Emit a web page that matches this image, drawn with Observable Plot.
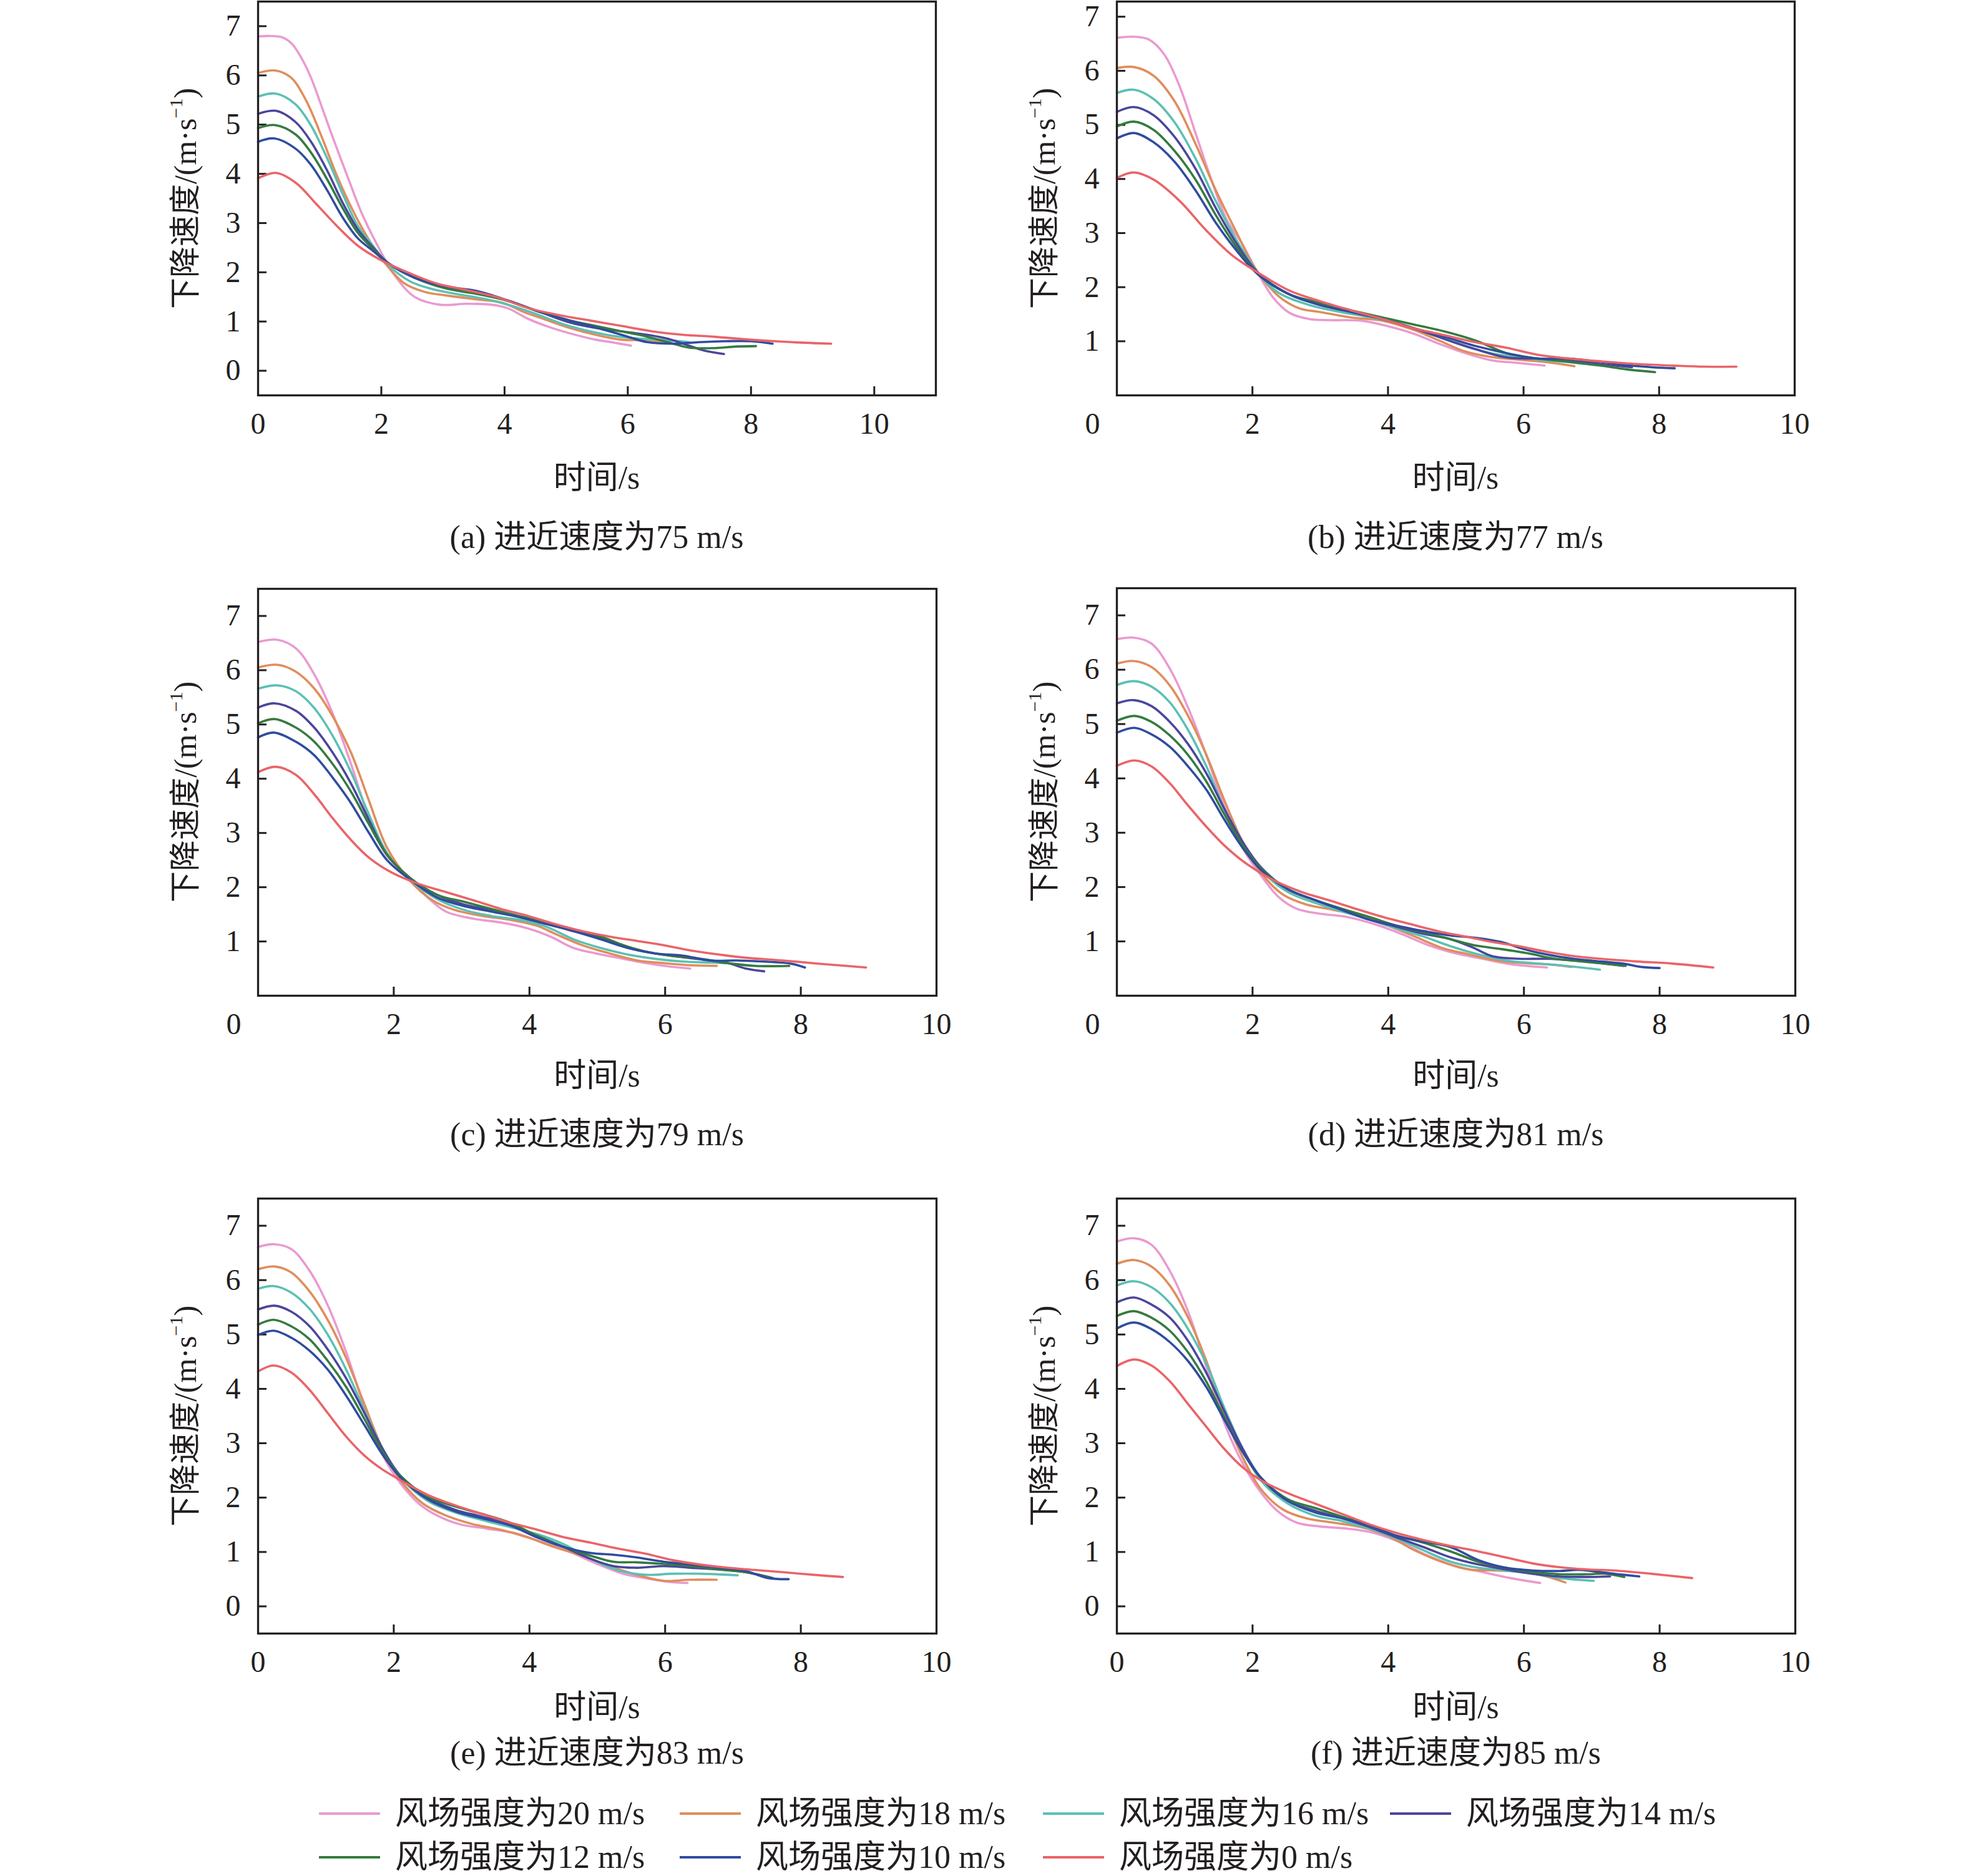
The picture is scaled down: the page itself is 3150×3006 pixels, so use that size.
<!DOCTYPE html>
<html>
<head>
<meta charset="utf-8">
<script src="https://cdn.jsdelivr.net/npm/d3@7"></script>
<script src="https://cdn.jsdelivr.net/npm/@observablehq/plot@0.6"></script>
<style>
  html, body { margin: 0; padding: 0; background: #fff; }
  #root { position: relative; width: 3150px; height: 3006px; background: #fff; overflow: hidden;
          font-family: "Liberation Serif", "Noto Sans CJK SC", serif; color: #231f20; }
  .txt { position: absolute; white-space: nowrap; font-size: 52px; line-height: 1; transform: translate(-50%, -50%); }
  .ylab { position: absolute; white-space: nowrap; font-size: 50px; line-height: 1; transform: translate(-50%, -50%) rotate(-90deg); }
  .ylab sup { font-size: 0.6em; vertical-align: 0.75em; line-height: 0; }
  .panel { position: absolute; }
  .sw { position: absolute; height: 4px; }
  .lt { position: absolute; white-space: nowrap; font-size: 52px; line-height: 1; transform: translateY(-50%); }
</style>
</head>
<body>
<div id="root"></div>
<script>
// ---------- labels ----------
const seriesNames = ["风场强度为20 m/s", "风场强度为18 m/s", "风场强度为16 m/s", "风场强度为14 m/s",
                     "风场强度为12 m/s", "风场强度为10 m/s", "风场强度为0 m/s"];
const seriesColors = ["#ea9ad0", "#e08d5c", "#5bc0b4", "#4b469d", "#357b3f", "#2f4c9f", "#ea6468"];
const captions = ["(a) 进近速度为75 m/s", "(b) 进近速度为77 m/s", "(c) 进近速度为79 m/s",
                  "(d) 进近速度为81 m/s", "(e) 进近速度为83 m/s", "(f) 进近速度为85 m/s"];
const xTitle = "时间/s";
const yTitleMain = "下降速度/(m·s";
const yTitleSup = "−1";
const yTitleEnd = ")";
const xTickValues = [0, 2, 4, 6, 8, 10];
const yTickValuesFull = [0, 1, 2, 3, 4, 5, 6, 7];
const yTickValuesNoZero = [1, 2, 3, 4, 5, 6, 7];

// ---------- (a) 75 m/s ----------
const A20 = [[0,6.79],[0.2,6.80],[0.4,6.77],[0.55,6.64],[0.7,6.36],[0.85,5.98],[1.0,5.48],[1.18,4.85],[1.45,3.95],[1.70,3.15],[2.0,2.40],[2.21,1.95],[2.54,1.50],[2.96,1.34],[3.38,1.36],[3.80,1.34],[4.05,1.27],[4.39,1.05],[4.72,0.89],[5.06,0.76],[5.48,0.63],[5.73,0.58],[6.05,0.51]];
const A18 = [[0,6.05],[0.28,6.10],[0.53,5.96],[0.78,5.49],[1.03,4.76],[1.28,3.96],[1.54,3.25],[1.79,2.68],[2.04,2.22],[2.37,1.78],[2.71,1.60],[3.05,1.53],[3.55,1.45],[3.97,1.38],[4.30,1.20],[4.64,1.05],[5.06,0.87],[5.48,0.73],[5.90,0.63],[6.32,0.62],[6.65,0.58]];
const A16 = [[0,5.57],[0.29,5.63],[0.61,5.41],[0.86,4.98],[1.12,4.32],[1.37,3.60],[1.62,2.94],[1.87,2.53],[2.12,2.14],[2.46,1.82],[2.79,1.67],[3.21,1.56],[3.72,1.45],[4.14,1.31],[4.56,1.13],[4.97,0.94],[5.39,0.80],[5.81,0.70],[6.23,0.65],[6.65,0.62],[6.99,0.58]];
const A14 = [[0,5.22],[0.29,5.28],[0.61,5.05],[0.86,4.65],[1.12,4.07],[1.37,3.42],[1.62,2.87],[1.87,2.50],[2.12,2.18],[2.54,1.89],[3.05,1.71],[3.55,1.60],[4.05,1.42],[4.56,1.20],[5.06,0.98],[5.48,0.87],[5.90,0.80],[6.32,0.73],[6.65,0.65],[6.99,0.51],[7.24,0.41],[7.56,0.34]];
const A12 = [[0,4.93],[0.28,4.99],[0.61,4.80],[0.86,4.43],[1.12,3.89],[1.37,3.31],[1.62,2.80],[1.87,2.47],[2.12,2.18],[2.54,1.89],[3.05,1.67],[3.55,1.56],[4.05,1.42],[4.56,1.20],[5.06,1.02],[5.48,0.91],[5.90,0.80],[6.32,0.69],[6.74,0.55],[6.99,0.47],[7.41,0.46],[7.74,0.49],[8.08,0.50]];
const A10 = [[0,4.65],[0.26,4.72],[0.61,4.51],[0.86,4.18],[1.12,3.67],[1.37,3.12],[1.62,2.69],[1.87,2.43],[2.12,2.18],[2.54,1.89],[3.05,1.71],[3.55,1.62],[4.05,1.43],[4.56,1.20],[5.06,1.02],[5.48,0.88],[5.90,0.73],[6.32,0.58],[6.74,0.55],[7.16,0.58],[7.58,0.60],[8.0,0.60],[8.35,0.55]];
const A0  = [[0,3.91],[0.29,4.02],[0.61,3.82],[0.95,3.38],[1.28,2.94],[1.62,2.54],[1.99,2.25],[2.37,2.03],[2.88,1.78],[3.38,1.64],[3.89,1.49],[4.39,1.27],[4.89,1.13],[5.39,1.02],[5.90,0.91],[6.40,0.80],[6.90,0.73],[7.41,0.69],[8.0,0.63],[8.67,0.58],[9.30,0.55]];

// ---------- (b) 77 m/s ----------
const B20 = [[0,6.61],[0.24,6.63],[0.47,6.58],[0.70,6.30],[0.93,5.70],[1.16,4.85],[1.39,4.00],[1.62,3.25],[1.85,2.80],[2.04,2.35],[2.31,1.80],[2.54,1.53],[2.84,1.41],[3.15,1.39],[3.61,1.38],[3.99,1.28],[4.38,1.14],[4.76,0.95],[5.14,0.78],[5.52,0.65],[5.91,0.60],[6.31,0.55]];
const B18 = [[0,6.05],[0.25,6.07],[0.54,5.91],[0.85,5.44],[1.16,4.65],[1.46,3.79],[1.77,3.00],[2.04,2.35],[2.38,1.84],[2.69,1.61],[3.0,1.54],[3.46,1.44],[3.92,1.38],[4.38,1.21],[4.76,1.01],[5.14,0.81],[5.52,0.71],[5.91,0.66],[6.29,0.62],[6.75,0.54]];
const B16 = [[0,5.59],[0.25,5.65],[0.54,5.48],[0.85,5.05],[1.16,4.38],[1.46,3.59],[1.77,2.86],[2.08,2.27],[2.38,1.90],[2.84,1.67],[3.30,1.54],[3.76,1.44],[4.22,1.31],[4.68,1.11],[5.14,0.91],[5.52,0.78],[5.91,0.71],[6.29,0.65],[6.6,0.62],[6.9,0.58]];
const B14 = [[0,5.24],[0.25,5.33],[0.54,5.18],[0.85,4.78],[1.16,4.19],[1.46,3.46],[1.77,2.80],[2.08,2.27],[2.54,1.87],[3.0,1.67],[3.46,1.54],[3.92,1.41],[4.38,1.24],[4.84,1.04],[5.30,0.85],[5.75,0.70],[6.21,0.68],[6.67,0.65],[7.13,0.58],[7.6,0.52]];
const B12 = [[0,4.97],[0.25,5.06],[0.54,4.91],[0.85,4.52],[1.16,3.99],[1.46,3.33],[1.77,2.73],[2.08,2.24],[2.54,1.87],[3.0,1.71],[3.46,1.57],[3.92,1.44],[4.38,1.31],[4.84,1.18],[5.30,1.01],[5.75,0.78],[6.21,0.68],[6.67,0.62],[7.13,0.55],[7.52,0.48],[7.94,0.43]];
const B10 = [[0,4.75],[0.25,4.85],[0.54,4.68],[0.85,4.32],[1.16,3.79],[1.46,3.19],[1.77,2.67],[2.08,2.24],[2.54,1.87],[3.0,1.67],[3.46,1.54],[3.92,1.41],[4.38,1.24],[4.84,1.08],[5.30,0.91],[5.75,0.78],[6.21,0.68],[6.67,0.68],[7.13,0.62],[7.59,0.55],[7.90,0.52],[8.23,0.50]];
const B0  = [[0,4.02],[0.25,4.12],[0.54,3.99],[0.93,3.59],[1.31,3.06],[1.69,2.60],[2.08,2.27],[2.54,1.94],[3.0,1.74],[3.46,1.57],[3.92,1.41],[4.38,1.24],[4.84,1.11],[5.30,0.98],[5.75,0.88],[6.21,0.75],[6.67,0.68],[7.13,0.63],[7.67,0.58],[8.21,0.55],[8.67,0.53],[9.14,0.53]];

// ---------- (c) 79 m/s ----------
const C20 = [[0,6.52],[0.29,6.56],[0.56,6.40],[0.83,5.92],[1.1,5.20],[1.37,4.27],[1.63,3.30],[1.9,2.58],[2.24,2.17],[2.5,1.81],[2.77,1.55],[3.17,1.42],[3.58,1.35],[3.98,1.24],[4.31,1.09],[4.65,0.88],[4.98,0.78],[5.39,0.68],[5.72,0.60],[6.05,0.54],[6.37,0.50]];
const C18 = [[0,6.05],[0.29,6.10],[0.56,5.97],[0.83,5.66],[1.1,5.15],[1.37,4.48],[1.63,3.61],[1.9,2.73],[2.24,2.12],[2.57,1.76],[2.9,1.58],[3.31,1.47],[3.71,1.40],[4.11,1.29],[4.38,1.14],[4.78,0.93],[5.18,0.78],[5.59,0.65],[5.99,0.60],[6.39,0.56],[6.76,0.55]];
const C16 = [[0,5.66],[0.29,5.72],[0.56,5.61],[0.83,5.30],[1.1,4.79],[1.37,4.12],[1.63,3.35],[1.9,2.63],[2.24,2.14],[2.64,1.78],[3.04,1.58],[3.44,1.47],[3.84,1.40],[4.25,1.27],[4.65,1.04],[5.05,0.88],[5.45,0.76],[5.85,0.68],[6.26,0.63],[6.66,0.61],[6.9,0.60]];
const C14 = [[0,5.31],[0.24,5.39],[0.56,5.25],[0.83,4.94],[1.1,4.48],[1.37,3.91],[1.63,3.25],[1.9,2.60],[2.24,2.17],[2.64,1.86],[3.04,1.68],[3.44,1.58],[3.84,1.47],[4.25,1.35],[4.65,1.19],[5.05,1.06],[5.39,0.91],[5.72,0.81],[6.12,0.73],[6.52,0.67],[6.93,0.60],[7.19,0.50],[7.46,0.45]];
const C12 = [[0,5.02],[0.24,5.10],[0.56,4.94],[0.83,4.68],[1.1,4.27],[1.37,3.76],[1.63,3.17],[1.9,2.60],[2.24,2.17],[2.64,1.86],[3.04,1.73],[3.44,1.60],[3.84,1.47],[4.25,1.35],[4.65,1.22],[5.05,1.09],[5.39,0.93],[5.72,0.81],[6.12,0.73],[6.52,0.68],[6.93,0.60],[7.33,0.55],[7.83,0.55]];
const C10 = [[0,4.76],[0.23,4.85],[0.56,4.68],[0.83,4.43],[1.1,4.02],[1.37,3.55],[1.63,3.01],[1.9,2.50],[2.24,2.14],[2.64,1.81],[3.04,1.65],[3.44,1.55],[3.84,1.45],[4.25,1.32],[4.65,1.19],[5.05,1.04],[5.45,0.88],[5.85,0.78],[6.26,0.74],[6.66,0.65],[7.06,0.65],[7.46,0.63],[7.86,0.59],[8.06,0.52]];
const C0  = [[0,4.12],[0.26,4.22],[0.56,4.07],[0.83,3.71],[1.1,3.27],[1.37,2.87],[1.63,2.55],[1.97,2.27],[2.37,2.06],[2.77,1.91],[3.17,1.76],[3.58,1.60],[3.98,1.47],[4.38,1.32],[4.78,1.19],[5.18,1.09],[5.59,1.01],[5.99,0.93],[6.39,0.83],[6.79,0.76],[7.19,0.70],[7.73,0.65],[8.27,0.59],[8.96,0.52]];

// ---------- (d) 81 m/s ----------
const D20 = [[0,6.56],[0.25,6.59],[0.51,6.48],[0.78,6.02],[1.05,5.30],[1.32,4.42],[1.58,3.50],[1.85,2.73],[2.12,2.22],[2.39,1.81],[2.65,1.60],[2.99,1.51],[3.39,1.45],[3.79,1.32],[4.19,1.14],[4.59,0.93],[4.99,0.78],[5.39,0.68],[5.80,0.58],[6.34,0.52]];
const D18 = [[0,6.11],[0.25,6.16],[0.51,6.05],[0.78,5.71],[1.05,5.15],[1.32,4.43],[1.58,3.61],[1.85,2.84],[2.12,2.27],[2.45,1.86],[2.79,1.68],[3.19,1.58],[3.59,1.47],[3.99,1.29],[4.39,1.09],[4.79,0.88],[5.19,0.76],[5.59,0.65],[5.99,0.60],[6.33,0.58],[6.70,0.53]];
const D16 = [[0,5.72],[0.25,5.79],[0.51,5.69],[0.78,5.40],[1.05,4.89],[1.32,4.22],[1.58,3.45],[1.85,2.78],[2.12,2.32],[2.52,1.91],[2.92,1.71],[3.32,1.55],[3.72,1.40],[4.12,1.24],[4.52,1.09],[4.92,0.91],[5.33,0.76],[5.73,0.65],[6.13,0.60],[6.53,0.56],[7.12,0.48]];
const D14 = [[0,5.38],[0.25,5.44],[0.51,5.33],[0.78,5.04],[1.05,4.63],[1.32,4.09],[1.58,3.45],[1.85,2.84],[2.12,2.37],[2.52,1.96],[2.92,1.76],[3.32,1.58],[3.72,1.40],[4.12,1.27],[4.52,1.14],[4.92,1.04],[5.26,0.88],[5.53,0.73],[5.93,0.68],[6.33,0.68],[6.73,0.65],[7.13,0.60],[7.47,0.55]];
const D12 = [[0,5.06],[0.26,5.15],[0.51,5.04],[0.78,4.79],[1.05,4.43],[1.32,3.94],[1.58,3.35],[1.85,2.78],[2.12,2.35],[2.52,1.96],[2.92,1.76],[3.32,1.60],[3.72,1.45],[4.12,1.29],[4.52,1.17],[4.92,1.04],[5.26,0.93],[5.66,0.86],[6.06,0.78],[6.46,0.68],[6.86,0.63],[7.19,0.59],[7.50,0.55]];
const D10 = [[0,4.84],[0.26,4.93],[0.51,4.81],[0.78,4.58],[1.05,4.22],[1.32,3.79],[1.58,3.25],[1.85,2.73],[2.12,2.32],[2.52,1.96],[2.92,1.76],[3.32,1.58],[3.72,1.40],[4.12,1.29],[4.52,1.19],[4.92,1.11],[5.33,1.06],[5.66,0.99],[5.99,0.86],[6.33,0.76],[6.73,0.68],[7.13,0.63],[7.47,0.59],[7.73,0.53],[8.0,0.51]];
const D0  = [[0,4.23],[0.26,4.33],[0.51,4.22],[0.78,3.91],[1.05,3.50],[1.32,3.11],[1.58,2.77],[1.92,2.42],[2.32,2.12],[2.72,1.91],[3.12,1.76],[3.52,1.60],[3.92,1.45],[4.32,1.32],[4.73,1.19],[5.13,1.09],[5.53,0.99],[5.93,0.91],[6.33,0.81],[6.73,0.73],[7.13,0.68],[7.67,0.63],[8.20,0.59],[8.79,0.52]];

// ---------- (e) 83 m/s ----------
const E20 = [[0,6.61],[0.24,6.66],[0.49,6.57],[0.76,6.17],[1.03,5.53],[1.30,4.67],[1.57,3.65],[1.83,2.80],[2.10,2.26],[2.37,1.89],[2.64,1.67],[2.97,1.51],[3.37,1.43],[3.77,1.35],[4.17,1.19],[4.58,1.01],[4.98,0.79],[5.38,0.60],[5.71,0.52],[6.05,0.45],[6.33,0.43]];
const E18 = [[0,6.20],[0.24,6.25],[0.49,6.14],[0.76,5.79],[1.03,5.26],[1.30,4.56],[1.57,3.71],[1.83,2.91],[2.10,2.32],[2.43,1.89],[2.77,1.67],[3.17,1.51],[3.57,1.41],[3.97,1.27],[4.37,1.09],[4.78,0.93],[5.18,0.74],[5.58,0.58],[5.98,0.47],[6.38,0.49],[6.76,0.49]];
const E16 = [[0,5.84],[0.23,5.89],[0.49,5.77],[0.76,5.47],[1.03,4.99],[1.30,4.35],[1.57,3.60],[1.83,2.91],[2.10,2.37],[2.50,1.94],[2.90,1.73],[3.30,1.59],[3.71,1.46],[4.11,1.33],[4.51,1.14],[4.91,0.87],[5.31,0.66],[5.71,0.58],[6.11,0.60],[6.51,0.60],[7.07,0.57]];
const E14 = [[0,5.46],[0.24,5.53],[0.49,5.42],[0.76,5.15],[1.03,4.72],[1.30,4.19],[1.57,3.55],[1.83,2.91],[2.10,2.40],[2.50,2.00],[2.90,1.78],[3.30,1.65],[3.71,1.51],[4.11,1.30],[4.51,1.09],[4.91,0.87],[5.24,0.74],[5.58,0.71],[5.98,0.74],[6.38,0.71],[6.78,0.68],[7.18,0.63],[7.59,0.52]];
const E12 = [[0,5.18],[0.23,5.27],[0.49,5.15],[0.76,4.91],[1.03,4.51],[1.30,4.03],[1.57,3.44],[1.83,2.85],[2.10,2.40],[2.50,2.02],[2.90,1.84],[3.30,1.70],[3.71,1.54],[4.11,1.30],[4.51,1.09],[4.91,0.93],[5.24,0.82],[5.58,0.81],[5.98,0.78],[6.38,0.74],[6.78,0.68],[7.18,0.63],[7.57,0.52]];
const E10 = [[0,4.99],[0.23,5.07],[0.49,4.94],[0.76,4.70],[1.03,4.35],[1.30,3.87],[1.57,3.33],[1.83,2.80],[2.10,2.37],[2.50,1.97],[2.90,1.75],[3.30,1.62],[3.71,1.49],[4.11,1.27],[4.51,1.09],[4.91,0.98],[5.24,0.95],[5.58,0.90],[5.98,0.82],[6.38,0.77],[6.78,0.71],[7.18,0.65],[7.52,0.52],[7.82,0.50]];
const E0  = [[0,4.32],[0.23,4.43],[0.49,4.30],[0.76,3.98],[1.03,3.55],[1.30,3.12],[1.57,2.77],[1.83,2.52],[2.10,2.32],[2.50,2.05],[2.90,1.86],[3.30,1.70],[3.71,1.54],[4.11,1.41],[4.51,1.27],[4.91,1.17],[5.31,1.06],[5.71,0.97],[6.11,0.85],[6.51,0.77],[6.92,0.71],[7.32,0.67],[7.72,0.63],[8.19,0.58],[8.62,0.54]];

// ---------- (f) 85 m/s ----------
const F20 = [[0,6.71],[0.26,6.77],[0.51,6.65],[0.78,6.17],[1.05,5.42],[1.32,4.40],[1.58,3.39],[1.85,2.64],[2.12,2.10],[2.39,1.73],[2.65,1.54],[2.99,1.47],[3.39,1.43],[3.79,1.35],[4.19,1.17],[4.59,0.93],[4.99,0.74],[5.39,0.63],[5.80,0.52],[6.24,0.43]];
const F18 = [[0,6.30],[0.25,6.37],[0.51,6.25],[0.78,5.90],[1.05,5.31],[1.32,4.51],[1.58,3.55],[1.85,2.75],[2.12,2.16],[2.45,1.78],[2.79,1.62],[3.19,1.54],[3.59,1.46],[3.99,1.30],[4.39,1.03],[4.79,0.82],[5.19,0.68],[5.59,0.66],[5.99,0.63],[6.33,0.55],[6.61,0.44]];
const F16 = [[0,5.90],[0.25,5.98],[0.51,5.87],[0.78,5.58],[1.05,5.10],[1.32,4.46],[1.58,3.66],[1.85,2.91],[2.12,2.32],[2.52,1.89],[2.92,1.67],[3.32,1.57],[3.72,1.43],[4.12,1.25],[4.52,1.03],[4.92,0.82],[5.33,0.71],[5.73,0.66],[6.13,0.60],[6.53,0.52],[7.03,0.47]];
const F14 = [[0,5.59],[0.25,5.68],[0.51,5.55],[0.78,5.31],[1.05,4.88],[1.32,4.29],[1.58,3.60],[1.85,2.91],[2.12,2.37],[2.52,1.94],[2.92,1.76],[3.32,1.62],[3.72,1.46],[4.12,1.27],[4.52,1.09],[4.92,0.90],[5.33,0.77],[5.73,0.68],[6.13,0.60],[6.53,0.55],[6.93,0.54],[7.27,0.55]];
const F12 = [[0,5.34],[0.25,5.43],[0.51,5.31],[0.78,5.07],[1.05,4.67],[1.32,4.13],[1.58,3.49],[1.85,2.85],[2.12,2.37],[2.52,1.97],[2.92,1.81],[3.32,1.65],[3.72,1.49],[4.12,1.30],[4.52,1.17],[4.92,1.01],[5.33,0.82],[5.73,0.71],[6.13,0.63],[6.53,0.59],[6.93,0.59],[7.2,0.60],[7.48,0.54]];
const F10 = [[0,5.11],[0.25,5.22],[0.51,5.10],[0.78,4.86],[1.05,4.51],[1.32,4.03],[1.58,3.44],[1.85,2.85],[2.12,2.37],[2.52,1.94],[2.92,1.73],[3.32,1.62],[3.72,1.49],[4.12,1.30],[4.52,1.19],[4.92,1.09],[5.33,0.85],[5.73,0.71],[6.13,0.66],[6.53,0.65],[6.80,0.67],[7.13,0.63],[7.47,0.58],[7.70,0.55]];
const F0  = [[0,4.42],[0.25,4.54],[0.51,4.43],[0.78,4.14],[1.05,3.72],[1.32,3.30],[1.58,2.90],[1.85,2.56],[2.12,2.32],[2.52,2.08],[2.92,1.89],[3.32,1.70],[3.72,1.51],[4.12,1.35],[4.52,1.22],[4.92,1.11],[5.33,1.01],[5.73,0.90],[6.13,0.79],[6.53,0.72],[6.93,0.68],[7.33,0.66],[7.87,0.60],[8.48,0.52]];

// ---------- layout (pixel positions of each plot frame) ----------
const panels = [
  {series: [A20,A18,A16,A14,A12,A10,A0], fx0: 413, fx1: 1499, fy0: 2,    fy1: 633,  xDomain: [0,11], yDomain: [-0.5,7.5], yTicks: yTickValuesFull,   cornerZero: false, titleY: 766,  capY: 861},
  {series: [B20,B18,B16,B14,B12,B10,B0], fx0: 1789, fx1: 2875, fy0: 2,   fy1: 633,  xDomain: [0,10], yDomain: [0,7.28],   yTicks: yTickValuesNoZero, cornerZero: true,  titleY: 766,  capY: 861},
  {series: [C20,C18,C16,C14,C12,C10,C0], fx0: 413, fx1: 1500, fy0: 943,  fy1: 1595, xDomain: [0,10], yDomain: [0,7.5],    yTicks: yTickValuesNoZero, cornerZero: true,  titleY: 1724, capY: 1818},
  {series: [D20,D18,D16,D14,D12,D10,D0], fx0: 1789, fx1: 2876, fy0: 942, fy1: 1595, xDomain: [0,10], yDomain: [0,7.5],    yTicks: yTickValuesNoZero, cornerZero: true,  titleY: 1724, capY: 1818},
  {series: [E20,E18,E16,E14,E12,E10,E0], fx0: 413, fx1: 1500, fy0: 1920, fy1: 2617, xDomain: [0,10], yDomain: [-0.5,7.5], yTicks: yTickValuesFull,   cornerZero: false, titleY: 2736, capY: 2809},
  {series: [F20,F18,F16,F14,F12,F10,F0], fx0: 1789, fx1: 2876, fy0: 1920, fy1: 2617, xDomain: [0,10], yDomain: [-0.5,7.5], yTicks: yTickValuesFull,  cornerZero: false, titleY: 2736, capY: 2809}
];

const root = document.getElementById("root");
const INK = "#231f20";
const FONT = '"Liberation Serif", "Noto Sans CJK SC", serif';
const ML = 140, MR = 20, MT = 10, MB = 100;
const fmt = d => String(d);

function addText(cls, html, x, y) {
  const d = document.createElement("div");
  d.className = cls;
  d.innerHTML = html;
  d.style.left = x + "px";
  d.style.top = y + "px";
  root.appendChild(d);
  return d;
}

panels.forEach((p, pi) => {
  const fw = p.fx1 - p.fx0, fh = p.fy1 - p.fy0;
  const rows = [];
  p.series.forEach((arr, si) => arr.forEach(([t, v]) => rows.push({t, v, s: seriesNames[si]})));
  const xLabelTicks = p.cornerZero ? xTickValues.filter(d => d !== 0) : xTickValues;
  const marks = [
    Plot.tickX(xTickValues, {x: d => d, insetTop: fh - 14, stroke: INK, strokeWidth: 3}),
    Plot.tickY(p.yTicks, {y: d => d, insetRight: fw - 14, stroke: INK, strokeWidth: 3}),
    Plot.axisX(xLabelTicks, {tickSize: 0, tickPadding: 27, tickFormat: fmt, fontSize: 48, fill: INK, label: null}),
    Plot.axisY(p.yTicks, {tickSize: 0, tickPadding: 28, tickFormat: fmt, fontSize: 48, fill: INK, label: null}),
    Plot.line(rows, {x: "t", y: "v", z: "s", stroke: "s", curve: "catmull-rom", strokeWidth: 3.6}),
    Plot.frame({stroke: INK, strokeWidth: 3.3})
  ];
  if (p.cornerZero) marks.splice(3, 0, Plot.axisX([0], {tickSize: 0, tickPadding: 27, tickFormat: fmt, dx: -39, fontSize: 48, fill: INK, label: null}));
  const chart = Plot.plot({
    width: fw + ML + MR,
    height: fh + MT + MB,
    marginLeft: ML, marginRight: MR, marginTop: MT, marginBottom: MB,
    x: {domain: p.xDomain, label: null},
    y: {domain: p.yDomain, label: null},
    color: {domain: seriesNames, range: seriesColors},
    style: {fontFamily: FONT, fontSize: "48px", color: INK, background: "transparent", overflow: "visible"},
    marks
  });
  const wrap = document.createElement("div");
  wrap.className = "panel";
  wrap.style.left = (p.fx0 - ML) + "px";
  wrap.style.top = (p.fy0 - MT) + "px";
  wrap.appendChild(chart);
  root.appendChild(wrap);

  const cx = (p.fx0 + p.fx1) / 2;
  addText("ylab", `${yTitleMain}<sup>${yTitleSup}</sup>${yTitleEnd}`, p.fx0 - 116, (p.fy0 + p.fy1) / 2);
  addText("txt", xTitle, cx, p.titleY);
  addText("txt", captions[pi], cx, p.capY);
});

// ---------- legend ----------
const legendCols = [511, 1089, 1671, 2227];
const legendRows = [2906, 2976];
seriesNames.forEach((name, i) => {
  const r = Math.floor(i / 4), c = i % 4;
  const sw = document.createElement("div");
  sw.className = "sw";
  sw.style.left = legendCols[c] + "px";
  sw.style.width = "98px";
  sw.style.top = (legendRows[r] - 2) + "px";
  sw.style.background = seriesColors[i];
  root.appendChild(sw);
  const t = document.createElement("div");
  t.className = "lt";
  t.textContent = name;
  t.style.left = (legendCols[c] + 122) + "px";
  t.style.top = legendRows[r] + "px";
  root.appendChild(t);
});
</script>
</body>
</html>
